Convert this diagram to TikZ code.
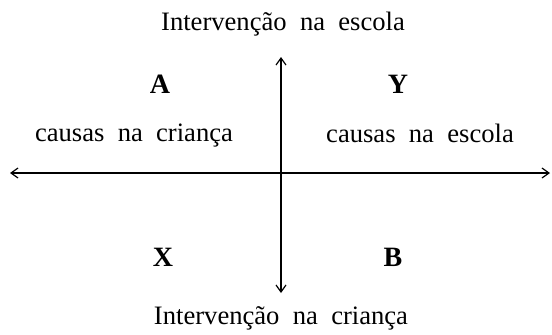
\documentclass[tikz,border=0pt]{standalone}
\usepackage{fontspec}
\setmainfont{Liberation Serif}
\usetikzlibrary{arrows.meta,positioning}

\begin{document}
\begin{tikzpicture}[x=0.5pt,y=-0.5pt,>={Straight Barb[length=3.5pt,width=5pt]},every node/.style={font=\fontsize{13.3}{16}\selectfont}]
\tikzstyle{lbl}=[inner sep=1pt,text depth=0pt]
\tikzstyle{quad}=[font=\fontsize{14}{16}\bfseries\selectfont,inner sep=1pt]
\tikzstyle{axis}=[<->,line width=0.6pt]
\useasboundingbox (0,0) rectangle (552,334);
% eixos
\coordinate (w) at (10,173);
\coordinate (e) at (550,173);
\coordinate (n) at (281,57);
\coordinate (s) at (281,293);
\draw[axis] (w) -- (e);
\draw[axis] (s) -- (n);
% textos
\node[lbl] (top) at (283,21) {Intervenção\ \ na\ \ escola};
\node[lbl] (bot) at (281,316) {Intervenção\ \ na\ \ criança};
\node[quad] (A) at (160,84) {A};
\node[quad] (Y) at (398,84) {Y};
\node[quad] (X) at (163,257) {X};
\node[quad] (B) at (393,257) {B};
\node[lbl] (cc) at (134,133) {causas\ \ na\ \ criança};
\node[lbl] (ce) at (420,133) {causas\ \ na\ \ escola};
\end{tikzpicture}
\end{document}
